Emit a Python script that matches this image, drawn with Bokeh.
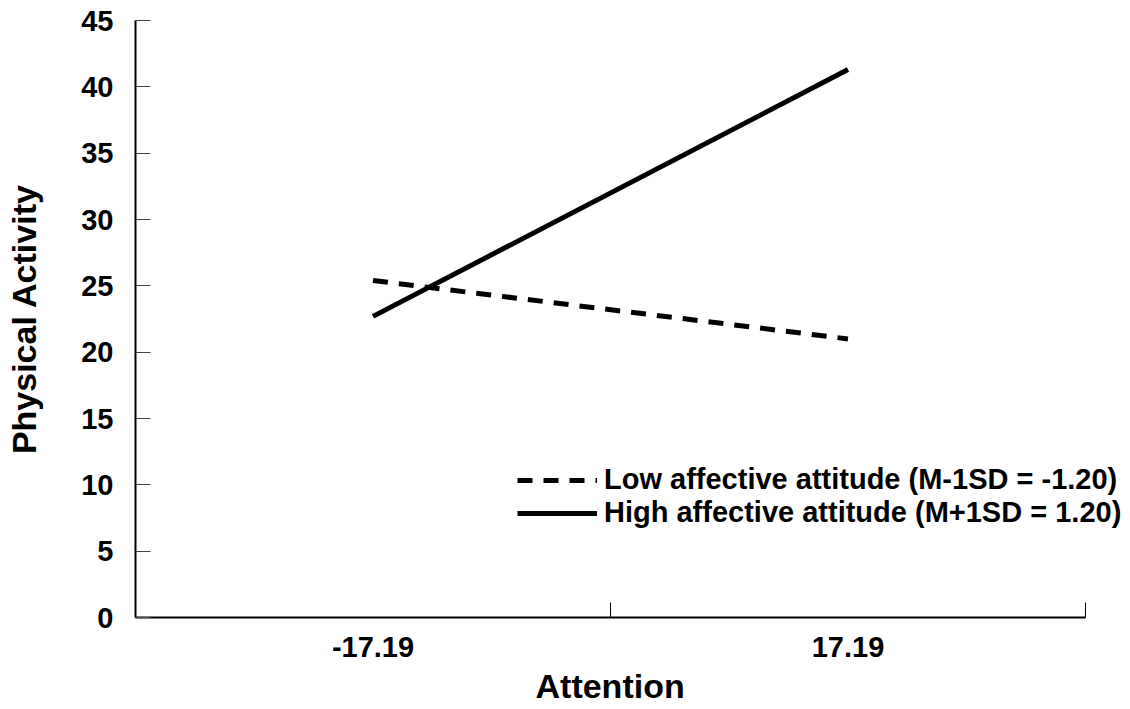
from bokeh.plotting import figure
from bokeh.models import Range1d, FixedTicker, Legend, LegendItem, Title
from bokeh.embed import file_html
from bokeh.resources import INLINE

categories = ["-17.19", "17.19"]
low_values = [25.4, 21.0]
high_values = [22.7, 41.3]
y_ticks = [0, 5, 10, 15, 20, 25, 30, 35, 40, 45]
x_title = "Attention"
y_title = "Physical Activity"
low_label = "Low affective attitude (M-1SD = -1.20)"
high_label = "High affective attitude (M+1SD = 1.20)"

x_pos = [i + 0.5 for i in range(len(categories))]
n = len(categories)
FONT = "'Liberation Sans', Arial, Helvetica, sans-serif"

# frame extends to the right edge so the legend text is not clipped;
# the x axis line itself is bounded to the category span
x_end = n * (1130 - 135) / (1085 - 135)

p = figure(width=1130, height=709, output_backend="svg", toolbar_location=None,
           x_range=Range1d(0, x_end), y_range=Range1d(0, 45),
           min_border_left=135, min_border_right=0, min_border_top=20, min_border_bottom=89)
p.outline_line_color = None
p.grid.visible = False
p.background_fill_color = "white"

r_low = p.line(x_pos, low_values, line_color="black", line_width=5, line_dash="15 11")
r_high = p.line(x_pos, high_values, line_color="black", line_width=5)

xa = p.xaxis[0]
xa.bounds = (0, n)
xa.ticker = FixedTicker(ticks=x_pos, minor_ticks=list(range(n + 1)))
xa.major_label_overrides = {x: c for x, c in zip(x_pos, categories)}
xa.major_tick_in = 0
xa.major_tick_out = 0
xa.minor_tick_in = 15
xa.minor_tick_out = 0
xa.minor_tick_line_color = "black"
xa.minor_tick_line_width = 1
xa.axis_line_width = 2
xa.axis_line_color = "black"
xa.major_label_text_font = FONT
xa.major_label_text_font_style = "bold"
xa.major_label_text_font_size = "29px"
xa.major_label_text_color = "black"
xa.major_label_standoff = 19

# x axis title centred under the bounded axis (not the wider frame)
t = Title(text=x_title, align="left", offset=400,
          text_font=FONT, text_font_style="bold", text_font_size="34px",
          text_color="black")
p.add_layout(t, "below")

ya = p.yaxis[0]
ya.ticker = FixedTicker(ticks=y_ticks, minor_ticks=[])
ya.major_tick_in = 15
ya.major_tick_out = 0
ya.major_tick_line_color = "#444444"
ya.major_tick_line_width = 1
ya.axis_line_width = 2
ya.axis_line_color = "black"
ya.major_label_text_font = FONT
ya.major_label_text_font_style = "bold"
ya.major_label_text_font_size = "29px"
ya.major_label_text_color = "black"
ya.major_label_standoff = 22
ya.axis_label = y_title
ya.axis_label_text_font = FONT
ya.axis_label_text_font_style = "bold"
ya.axis_label_text_font_size = "34px"
ya.axis_label_text_color = "black"
ya.axis_label_standoff = 35

legend = Legend(items=[LegendItem(label=low_label, renderers=[r_low]),
                       LegendItem(label=high_label, renderers=[r_high])],
                location=(382, 88))
legend.padding = 0
legend.margin = 0
legend.spacing = 0
legend.border_line_color = None
legend.background_fill_alpha = 0
legend.glyph_width = 80
legend.glyph_height = 32
legend.label_height = 32
legend.label_standoff = 7
legend.label_text_font = FONT
legend.label_text_font_style = "bold"
legend.label_text_font_size = "29px"
legend.label_text_color = "black"
legend.label_text_baseline = "middle"
p.add_layout(legend, "center")

open("out.html", "w").write(file_html(p, INLINE))
